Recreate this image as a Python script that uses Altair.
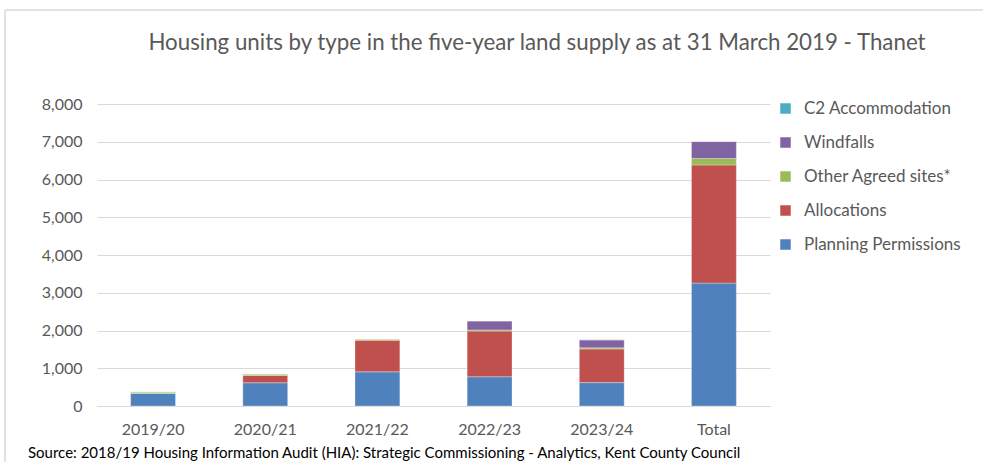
import altair as alt
import pandas as pd

categories = ["2019/20", "2020/21", "2021/22", "2022/23", "2023/24", "Total"]
series = ["Planning Permissions", "Allocations", "Other Agreed sites*", "Windfalls", "C2 Accommodation"]
planning = [340, 615, 905, 775, 620, 3255]
allocations = [0, 195, 835, 1210, 890, 3130]
other_agreed = [35, 40, 35, 30, 30, 170]
windfalls = [0, 0, 0, 238, 212, 450]
c2 = [0, 0, 0, 0, 0, 0]
colors = ["#4F81BD", "#C0504D", "#9BBB59", "#8064A2", "#4BACC6"]
y_ticks = [0, 1000, 2000, 3000, 4000, 5000, 6000, 7000, 8000]
title_text = "Housing units by type in the five-year land supply as at 31 March 2019 - Thanet"
source_text = "Source: 2018/19 Housing Information Audit (HIA): Strategic Commissioning - Analytics, Kent County Council"

values = [planning, allocations, other_agreed, windfalls, c2]
rows = []
for si, (s, vals) in enumerate(zip(series, values)):
    for c, v in zip(categories, vals):
        rows.append({"cat": c, "series": s, "value": v, "ord": si})
df = pd.DataFrame(rows)

FONT = "Lato"
GREY = "#595959"

legend_order = series[::-1]
legend_colors = colors[::-1]

bars = alt.Chart(df).mark_bar(stroke="white", strokeWidth=0.5, strokeOpacity=0.6).encode(
    x=alt.X("cat:N", sort=categories, title=None,
            scale=alt.Scale(paddingInner=0.6),
            axis=alt.Axis(labelAngle=0, labelFont=FONT, labelFontSize=16, labelColor=GREY,
                          labelPadding=15, ticks=False, domainColor="#d9d9d9", domainWidth=1)),
    y=alt.Y("value:Q", stack="zero", title=None,
            scale=alt.Scale(domain=[0, 8000], nice=False),
            axis=alt.Axis(values=y_ticks, format=",.0f", labelFont=FONT, labelFontSize=16,
                          labelColor=GREY, labelPadding=15, ticks=False, domain=False,
                          gridColor="#d9d9d9", gridWidth=1)),
    color=alt.Color("series:N", scale=alt.Scale(domain=legend_order, range=legend_colors),
                    legend=alt.Legend(title=None, orient="none", legendX=680, legendY=-4,
                                      symbolType="square", symbolSize=110, symbolStrokeWidth=0,
                                      labelFont=FONT, labelFontSize=17, labelColor=GREY,
                                      rowPadding=16, labelOffset=10)),
    order=alt.Order("ord:Q", sort="ascending"),
)

title = alt.Chart(pd.DataFrame({"t": [title_text]})).mark_text(
    font=FONT, fontSize=22.3, color=GREY, align="center", baseline="middle"
).encode(x=alt.value(440), y=alt.value(-61), text="t:N")

source = alt.Chart(pd.DataFrame({"t": [source_text]})).mark_text(
    font=FONT, fontSize=15, color="black", align="left", baseline="middle"
).encode(x=alt.value(-69), y=alt.value(349), text="t:N")

frame_top = alt.Chart(pd.DataFrame({"a": [0]})).mark_rule(color="#d9d9d9", strokeWidth=1.5).encode(
    x=alt.value(-92), x2=alt.value(886), y=alt.value(-94), y2=alt.value(-94))
frame_left = alt.Chart(pd.DataFrame({"a": [0]})).mark_rule(color="#d9d9d9", strokeWidth=1.5).encode(
    x=alt.value(-92), x2=alt.value(-92), y=alt.value(-94), y2=alt.value(360))

chart = alt.layer(frame_top, frame_left, bars, title, source).properties(
    width=673, height=302,
    autosize=alt.AutoSizeParams(type="none"),
    padding={"left": 97, "top": 104, "right": 213, "bottom": 56},
    background="white",
).configure_view(stroke=None)

chart.save("out.html", embed_options={"renderer": "svg", "actions": False})
